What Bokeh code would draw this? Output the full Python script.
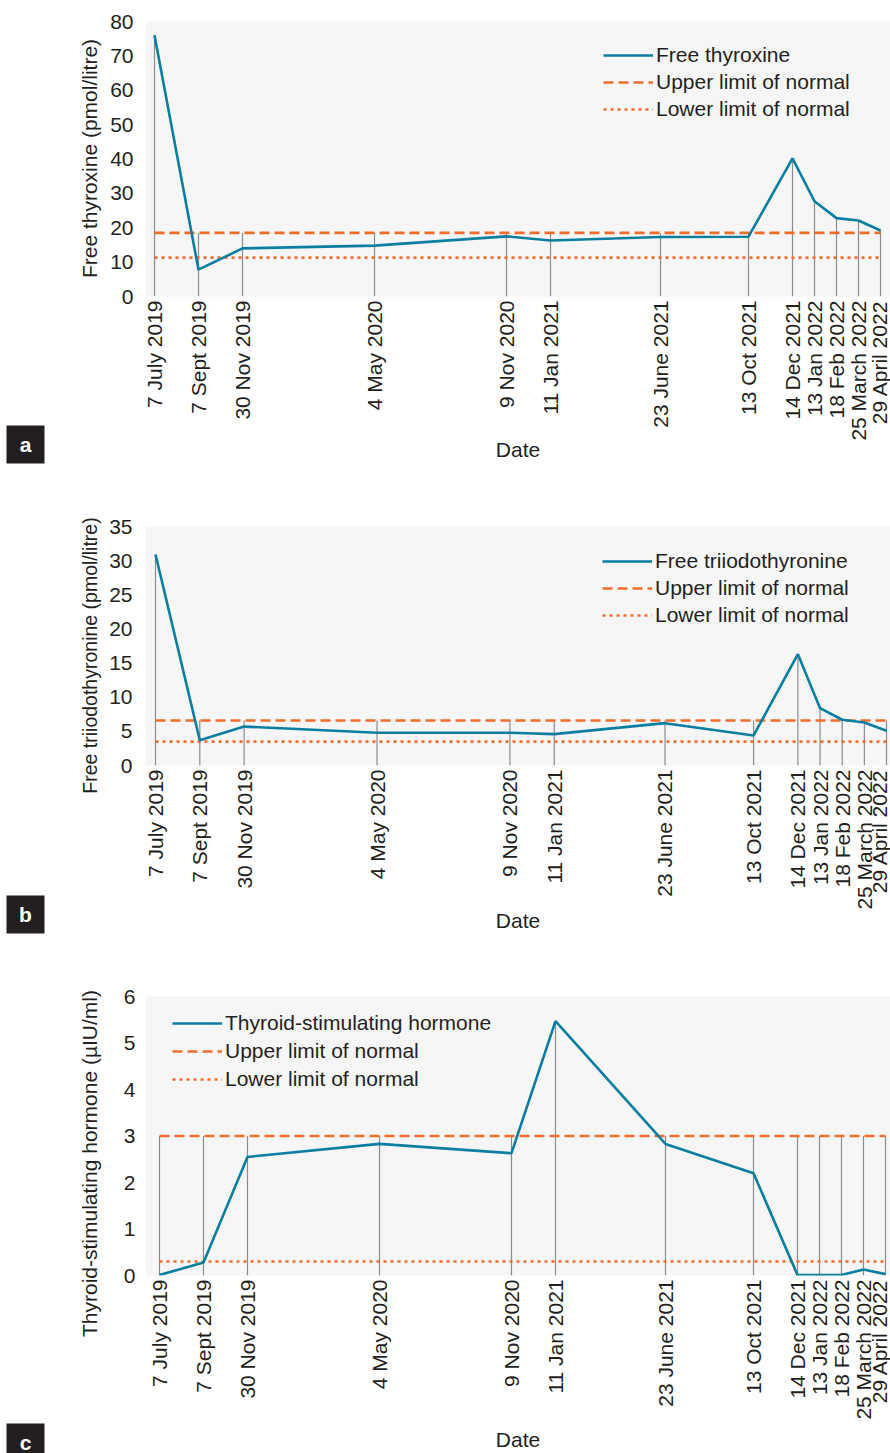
import math
import pandas as pd
from bokeh.plotting import figure
from bokeh.layouts import column, row
from bokeh.models import FixedTicker, Legend, LegendItem, Range1d
from bokeh.core.properties import value
from bokeh.embed import file_html
from bokeh.resources import INLINE

# ---------------- data ----------------
dates = ["2019-07-07", "2019-09-07", "2019-11-30", "2020-05-04", "2020-11-09",
         "2021-01-11", "2021-06-23", "2021-10-13", "2021-12-14", "2022-01-13",
         "2022-02-18", "2022-03-25", "2022-04-29"]
date_labels = ["7 July 2019", "7 Sept 2019", "30 Nov 2019", "4 May 2020", "9 Nov 2020",
               "11 Jan 2021", "23 June 2021", "13 Oct 2021", "14 Dec 2021", "13 Jan 2022",
               "18 Feb 2022", "25 March 2022", "29 April 2022"]

ft4 = [76, 7.8, 14.0, 14.8, 17.5, 16.3, 17.3, 17.4, 40.2, 27.7, 22.8, 22.1, 19.2]
ft4_upper = 18.5
ft4_lower = 11.3

ft3 = [30.9, 3.7, 5.7, 4.8, 4.8, 4.6, 6.2, 4.4, 16.3, 8.4, 6.7, 6.3, 5.1]
ft3_upper = 6.6
ft3_lower = 3.5

tsh = [0.01, 0.28, 2.55, 2.83, 2.63, 5.47, 2.83, 2.2, 0.01, 0.01, 0.01, 0.13, 0.03]
tsh_upper = 3.0
tsh_lower = 0.3

panel_titles = ["Free thyroxine (pmol/litre)",
                "Free triiodothyronine (pmol/litre)",
                "Thyroid-stimulating hormone (\u00b5IU/ml)"]
panel_letters = ["a", "b", "c"]

# x position: month index since the first sample month
dt = pd.to_datetime(dates)
xs = [int((d.year - dt[0].year) * 12 + d.month - dt[0].month) for d in dt]

TEAL = "#0a7ea0"
ORANGE = "#f26d2b"
GREY = "#8c8c8c"
TXT = "#231f20"
FONT = "Liberation Sans"
PAGE_H = 1453
LEFT_W = 104
MAIN_W = 786
BORDER_L = 41

# ---------------- left strip: y titles and panel letters ----------------
side = figure(width=LEFT_W, height=PAGE_H, output_backend="svg", toolbar_location=None,
              x_range=Range1d(0, LEFT_W), y_range=Range1d(0, PAGE_H),
              x_axis_type=None, y_axis_type=None, min_border=0)
side.outline_line_color = None
side.grid.visible = False
side.background_fill_color = "white"
side.border_fill_color = "white"

title_centres = [158, 655, 1163]       # page rows of the title centres
title_sizes = ["21px", "19.5px", "21px"]
box_tops = [425, 895, 1423]            # page rows of the letter boxes
for t, c, fs in zip(panel_titles, title_centres, title_sizes):
    side.text(x=[89], y=[PAGE_H - c], text=[t], angle=math.pi / 2,
              text_align="center", text_baseline="middle", text_color=TXT,
              text_font=value(FONT), text_font_size=fs)
side.quad(left=[6] * 3, right=[44] * 3, top=[PAGE_H - b for b in box_tops],
          bottom=[PAGE_H - b - 38 for b in box_tops], fill_color=TXT, line_color=None)
side.text(x=[25] * 3, y=[PAGE_H - b - 19 for b in box_tops], text=panel_letters,
          text_align="center", text_baseline="middle", text_color="white",
          text_font=value(FONT), text_font_style="bold", text_font_size="21px")


def panel(values, upper, lower, y_end, y_step, legend_name, x_start, x_end,
          border_top, border_bottom, height, legend_loc, legend_spacing,
          date_standoff, ylab_standoff):
    p = figure(width=MAIN_W, height=height, output_backend="svg", toolbar_location=None,
               x_range=Range1d(x_start, x_end), y_range=Range1d(0, y_end),
               min_border_left=BORDER_L, min_border_right=0,
               min_border_top=border_top, min_border_bottom=border_bottom)
    p.background_fill_color = "#f6f6f6"
    p.border_fill_color = "white"
    p.outline_line_color = None
    p.grid.visible = False

    tops = [max(v, upper) for v in values]
    p.segment(x0=xs, y0=[0] * len(xs), x1=xs, y1=tops, line_color=GREY, line_width=1.2)

    r_up = p.line(xs, [upper] * len(xs), line_color=ORANGE, line_width=2.6, line_dash="10 5")
    r_lo = p.line(xs, [lower] * len(xs), line_color=ORANGE, line_width=2.6, line_dash="3 4")
    r_v = p.line(xs, values, line_color=TEAL, line_width=2.6)

    legend = Legend(items=[LegendItem(label=legend_name, renderers=[r_v]),
                           LegendItem(label="Upper limit of normal", renderers=[r_up]),
                           LegendItem(label="Lower limit of normal", renderers=[r_lo])],
                    location=legend_loc, padding=0, spacing=legend_spacing, margin=0,
                    glyph_width=50, glyph_height=24, label_height=24, label_standoff=3,
                    label_text_font=FONT, label_text_font_size="21px",
                    label_text_color=TXT, background_fill_alpha=0,
                    border_line_color=None)
    p.add_layout(legend)

    p.yaxis.ticker = FixedTicker(ticks=list(range(0, y_end + 1, y_step)))
    p.xaxis.ticker = FixedTicker(ticks=xs)
    p.xaxis.major_label_overrides = {x: lab for x, lab in zip(xs, date_labels)}
    p.xaxis.major_label_orientation = math.pi / 2
    for ax in (p.xaxis, p.yaxis):
        ax.axis_line_color = None
        ax.major_tick_line_color = None
        ax.minor_tick_line_color = None
        ax.major_tick_out = 0
        ax.major_tick_in = 0
        ax.minor_tick_out = 0
        ax.major_label_text_font = FONT
        ax.major_label_text_font_size = "21px"
        ax.major_label_text_color = TXT
        ax.axis_label_text_font = FONT
        ax.axis_label_text_font_size = "21px"
        ax.axis_label_text_font_style = "normal"
        ax.axis_label_text_color = TXT
    p.yaxis.major_label_standoff = ylab_standoff
    p.xaxis.major_label_standoff = 4
    p.xaxis.axis_label = "Date"
    p.xaxis.axis_label_standoff = date_standoff
    return p


# panel a (page rows 0..470)
pa = panel(ft4, ft4_upper, ft4_lower, 80, 10, "Free thyroxine",
           -0.409, 33.4545, 21, 174, 470, (458, 175), 3, -6, 12)
# panel b (page rows 470..940)
pb = panel(ft3, ft3_upper, ft3_lower, 35, 5, "Free triiodothyronine",
           -0.4515, 33.18, 56, 175, 470, (457, 138), 3, -4, 13)
# panel c (page rows 940..1453)
pc = panel(tsh, tsh_upper, tsh_lower, 6, 1, "Thyroid-stimulating hormone",
           -0.636, 33.227, 56, 175, 513, (27, 184), 4, 5, 10)

layout = row(side, column(pa, pb, pc, spacing=0), spacing=0)
open("out.html", "w").write(file_html(layout, INLINE))
